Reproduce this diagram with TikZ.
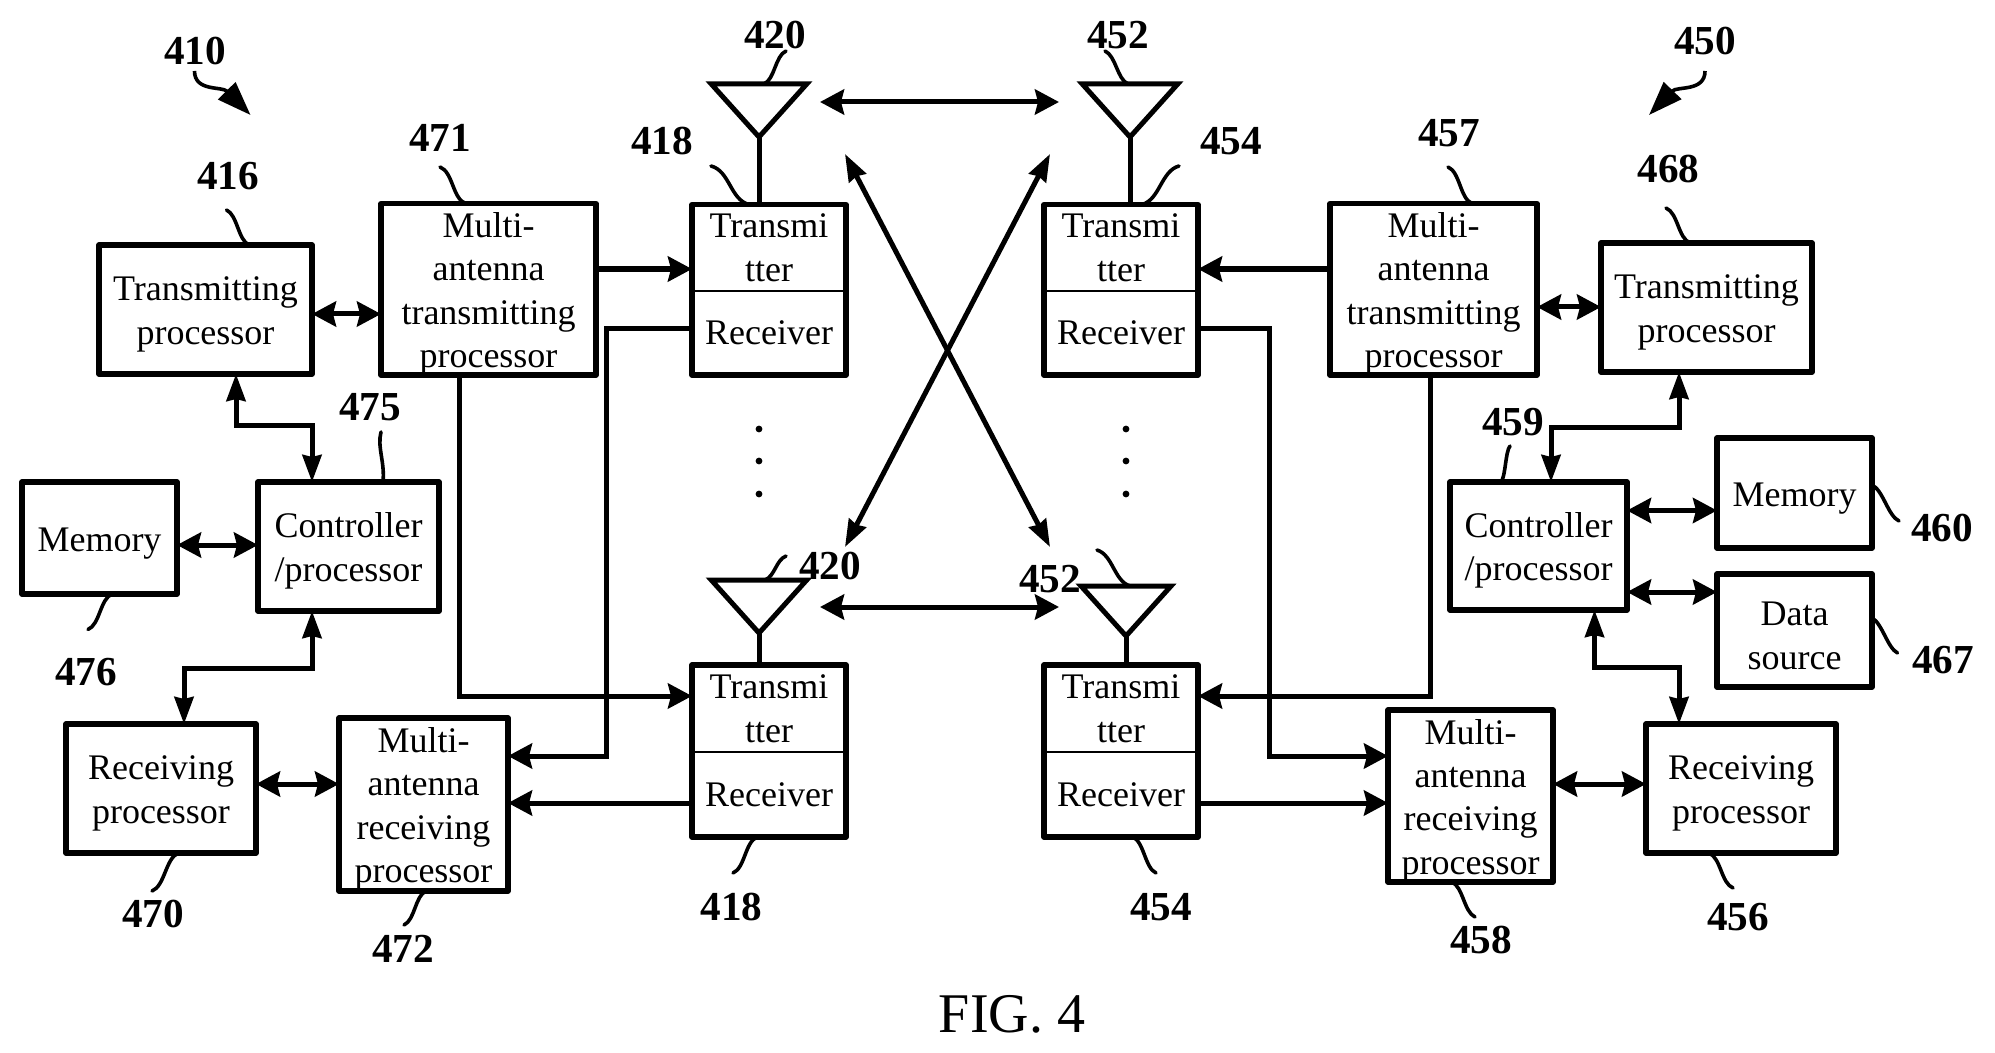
\documentclass[tikz,border=0pt]{standalone}
\usepackage{fontspec}
\setmainfont{Liberation Serif}
\usetikzlibrary{arrows.meta,positioning,shapes.geometric}

\tikzset{
  box/.style={draw,rectangle,line width=2.6pt,line join=round,text width=95pt,inner xsep=-10pt,inner ysep=-3pt,
              outer sep=0pt,align=center,font=\fontsize{18}{21.7}\selectfont,
              execute at begin node={\rule{0pt}{17pt}}},
  part/.style={rectangle,minimum width=77pt,inner sep=0pt,outer sep=0pt,align=center,
               font=\fontsize{18}{22}\selectfont},
  frame/.style={line width=2.6pt,line join=round},
  ant/.style={draw,isosceles triangle,isosceles triangle apex angle=84,shape border rotate=270,
              line width=2.5pt,inner sep=0pt,outer sep=0pt,minimum height=26.5pt,anchor=apex},
  num/.style={inner sep=0pt,font=\fontsize{20.6}{24}\selectfont\bfseries},
  lead/.style={line width=1.8pt,line cap=round},
  line/.style={line width=2.5pt},
  tall/.style={line width=2.5pt,>={Stealth[length=13.5pt,width=9.5pt,inset=1pt]}},
  thick line/.style={line width=3pt},
  dotm/.style={circle,fill=black,inner sep=0pt,minimum size=3.4pt},
  sign/.style={line width=1.8pt,-{Triangle[length=17pt,width=12pt]}},
  >={Stealth[length=12pt,width=12.5pt,inset=1.5pt]}
}

\begin{document}
\begin{tikzpicture}[x=0.5pt,y=-0.5pt]
      \useasboundingbox (0,0) rectangle (1995,1053);

      % left side
      \node[box,minimum width=106.5pt,minimum height=64.5pt](tpl) at (205.5,309.5) {Transmitting\\processor};
      \node[box,minimum width=107.5pt,minimum height=85.75pt](mtl) [right=34.5pt of tpl,yshift=10.1pt] {Multi-\\antenna\\transmitting\\processor};
      \node[part,minimum height=43.25pt](txa) [right=48pt of mtl,yshift=20.75pt] {Transmi\\tter};
      \node[part,minimum height=42pt](rxa) [below=0pt of txa] {Receiver};
      \node[part,minimum height=43.5pt](txb) [below=145pt of rxa] {Transmi\\tter};
      \node[part,minimum height=42.5pt](rxb) [below=0pt of txb] {Receiver};
      \node[box,minimum width=90.5pt,minimum height=64.5pt](ctl) [below=54pt of tpl,xshift=71.5pt] {Controller\\/processor};
      \node[box,minimum width=77.5pt,minimum height=56pt](mel) [left=40.5pt of ctl,yshift=4.25pt] {Memory};
      \node[box,minimum width=95pt,minimum height=64.5pt](rpl) [below=56.5pt of ctl,xshift=-93.75pt] {Receiving\\processor};
      \node[box,minimum width=84.5pt,minimum height=86.5pt](mrl) [right=41.5pt of rpl,yshift=-8pt] {Multi-\\antenna\\receiving\\processor};

      % right side
      \node[part,minimum height=43.25pt](txc) [right=99pt of txa] {Transmi\\tter};
      \node[part,minimum height=42pt](rxc) [below=0pt of txc] {Receiver};
      \node[part,minimum height=43.5pt](txd) [below=145pt of rxc] {Transmi\\tter};
      \node[part,minimum height=42.5pt](rxd) [below=0pt of txd] {Receiver};
      \node[box,minimum width=103.5pt,minimum height=85.75pt](mtr) [right=66pt of txc,yshift=-20.75pt] {Multi-\\antenna\\transmitting\\processor};
      \node[box,minimum width=105.5pt,minimum height=64.5pt](tpr) [right=32pt of mtr,yshift=-9.1pt] {Transmitting\\processor};
      \node[box,minimum width=88.5pt,minimum height=64pt](ctr) [below=55pt of tpr,xshift=-84pt] {Controller\\/processor};
      \node[box,minimum width=77.5pt,minimum height=55pt](mer) [right=45pt of ctr,yshift=26.5pt] {Memory};
      \node[box,minimum width=77.5pt,minimum height=56.5pt,execute at begin node={}](dsr) [below=13pt of mer] {Data\\source};
      \node[box,minimum width=95pt,minimum height=64.5pt](rpr) [below=57pt of ctr,xshift=101.25pt] {Receiving\\processor};
      \node[box,minimum width=82.5pt,minimum height=86pt](mrr) [left=46.5pt of rpr,yshift=-3.75pt] {Multi-\\antenna\\receiving\\processor};

      \draw[frame] (txa.north west) rectangle (rxa.south east);
      \draw[frame] (txb.north west) rectangle (rxb.south east);
      \draw[frame] (txc.north west) rectangle (rxc.south east);
      \draw[frame] (txd.north west) rectangle (rxd.south east);
      \draw[line width=0.9pt] (txa.south west) -- (txa.south east);
      \draw[line width=0.9pt] (txb.south west) -- (txb.south east);
      \draw[line width=0.9pt] (txc.south west) -- (txc.south east);
      \draw[line width=0.9pt] (txd.south west) -- (txd.south east);

      % antennas
      \node[ant](ana) at (759,137) {};
      \node[ant](anb) at (759,633) {};
      \node[ant](anc) at (1130,137) {};
      \node[ant,minimum height=25pt](and) at (1126,636) {};
      \draw[line] (ana.apex) -- (ana.apex |- txa.north);
      \draw[line] (anb.apex) -- (anb.apex |- txb.north);
      \draw[line] (anc.apex) -- (anc.apex |- txc.north);
      \draw[line] (and.apex) -- (and.apex |- txd.north);

      \node[dotm](da1) at (759,429) {};
      \node[dotm](da2) at (759,461) {};
      \node[dotm](da3) at (759,494) {};
      \node[dotm](db1) at (1126,429) {};
      \node[dotm](db2) at (1126,461) {};
      \node[dotm](db3) at (1126,494) {};

      % air links
      \coordinate (wa) at (820,102);
      \coordinate (wb) at (1059,102);
      \coordinate (wc) at (820,607);
      \coordinate (wd) at (1059,607);
      \coordinate (xa) at (845,154);
      \coordinate (xb) at (1050,154);
      \coordinate (xc) at (845,547);
      \coordinate (xd) at (1050,547);
      \path[line] (wa) edge[<->] (wb)
                  (wc) edge[<->] (wd);
      \path[tall] (xa) edge[<->] (xd)
                  (xb) edge[<->] (xc);

      % connectors
      \draw[line,<->] (tpl.east |- 0,314) -- (mtl.west |- 0,314);
      \draw[thick line,->] (mtl.east |- 0,269) -- (txa.west |- 0,269);
      \draw[line,->] (rxa.west |- 0,329) -- (606,329) -- (606,756) -- (mrl.east |- 0,756);
      \draw[line,->] (mtl.south -| 459,0) -- (459,696) -- (txb.west |- 0,696);
      \draw[tall,<->] (tpl.south -| 236,0) -- (236,425) -- (312,425) -- (ctl.north -| 312,0);
      \draw[line,<->] (mel.east |- 0,545) -- (ctl.west |- 0,545);
      \draw[tall,<->] (ctl.south -| 312,0) -- (312,668) -- (184,668) -- (rpl.north -| 184,0);
      \draw[line,<->] (rpl.east |- 0,784) -- (mrl.west |- 0,784);
      \draw[line,->] (rxb.west |- 0,803) -- (mrl.east |- 0,803);
      \draw[thick line,->] (mtr.west |- 0,269) -- (txc.east |- 0,269);
      \draw[line,<->] (mtr.east |- 0,307) -- (tpr.west |- 0,307);
      \draw[line,->] (rxc.east |- 0,329) -- (1269,329) -- (1269,756) -- (mrr.west |- 0,756);
      \draw[line,->] (mtr.south -| 1430,0) -- (1430,696) -- (txd.east |- 0,696);
      \draw[tall,<->] (ctr.north -| 1551,0) -- (1551,427) -- (1679,427) -- (tpr.south -| 1679,0);
      \draw[line,<->] (ctr.east |- 0,510.5) -- (mer.west |- 0,510.5);
      \draw[line,<->] (ctr.east |- 0,592) -- (dsr.west |- 0,592);
      \draw[tall,<->] (ctr.south -| 1594.5,0) -- (1594.5,667) -- (1679,667) -- (rpr.north -| 1679,0);
      \draw[line,<->] (mrr.east |- 0,784) -- (rpr.west |- 0,784);
      \draw[line,->] (rxd.east |- 0,803) -- (mrr.west |- 0,803);

      % reference numbers
      \node[num](l410) at (195,51) {410};
      \node[num](l420a) at (775,35) {420};
      \node[num](l471) at (440,138) {471};
      \node[num](l416) at (228,176) {416};
      \node[num](l418a) at (662,141) {418};
      \node[num](l475) at (370,407) {475};
      \node[num](l476) at (86,672) {476};
      \node[num](l470) at (153,914) {470};
      \node[num](l472) at (403,949) {472};
      \node[num](l418b) at (731.5,907) {418};
      \node[num](l420b) at (830,566) {420};
      \node[num](l452a) at (1118,35) {452};
      \node[num](l454a) at (1231,141) {454};
      \node[num](l457) at (1449,133) {457};
      \node[num](l450) at (1705,41) {450};
      \node[num](l468) at (1668.5,169) {468};
      \node[num](l459) at (1513,422) {459};
      \node[num](l460) at (1942,528) {460};
      \node[num](l467) at (1943,660) {467};
      \node[num](l452b) at (1050,579) {452};
      \node[num](l454b) at (1161,907) {454};
      \node[num](l458) at (1481,940) {458};
      \node[num](l456) at (1738,917) {456};
      \node[font=\fontsize{28}{32}\selectfont](fig) at (1012,1014) {FIG. 4};

      \draw[sign] ([shift={(-0.5,20)}]l410.center) .. controls +(0,21) and +(-28.5,-29) .. (250.5,115);
      \draw[sign] ([shift={(0,30)}]l450.center) .. controls +(0,21) and +(28,-29) .. (1649,115);

      % leaders
      \draw[lead] ([shift={(-1.5,34)}]l416.center) .. controls +(11,5) and +(-11,-5) .. (tpl.north -| 249,0);
      \draw[lead] ([shift={(0,29)}]l471.center) .. controls +(13,5) and +(-13,-5) .. (mtl.north -| 465.5,0);
      \draw[lead] ([shift={(49,25)}]l418a.center) .. controls +(19,5) and +(-19,-5) .. (txa.north -| 749,0);
      \draw[lead] ([shift={(11,16)}]l420a.center) .. controls +(-11,5) and +(11,-5) .. (ana.north -| 764,0);
      \draw[lead] ([shift={(11,25)}]l475.center) .. controls +(-4,15) and +(2,-20) .. (ctl.north -| 383,0);
      \draw[lead] (mel.south -| 112,0) .. controls +(-12,5) and +(12,-5) .. ([shift={(2,-42.5)}]l476.center);
      \draw[lead] (rpl.south -| 178.5,0) .. controls +(-13,5) and +(13,-5) .. ([shift={(-1,-23)}]l470.center);
      \draw[lead] (mrl.south -| 426,0) .. controls +(-11,5) and +(11,-5) .. ([shift={(1,-24)}]l472.center);
      \draw[lead] (rxb.south -| 757,0) .. controls +(-12,5) and +(12,-5) .. ([shift={(1.5,-34)}]l418b.center);
      \draw[lead] ([shift={(-44,-10)}]l420b.center) .. controls +(-10,4) and +(10,-4) .. (anb.north -| 765,0);
      \draw[lead] ([shift={(-13,16)}]l452a.center) .. controls +(11,5) and +(-11,-5) .. (anc.north -| 1128,0);
      \draw[lead] ([shift={(-52,25)}]l454a.center) .. controls +(-18,5) and +(18,-5) .. (txc.north -| 1142,0);
      \draw[lead] ([shift={(-1,34)}]l457.center) .. controls +(12,5) and +(-12,-5) .. (mtr.north -| 1472,0);
      \draw[lead] ([shift={(-2.5,39)}]l468.center) .. controls +(12,5) and +(-12,-5) .. (tpr.north -| 1690,0);
      \draw[lead] ([shift={(-3,24)}]l459.center) .. controls +(-4.5,5) and +(4.5,-5) .. (ctr.north -| 1501,0);
      \draw[lead] (mer.east |- 0,485) .. controls +(11,5) and +(-11,-5) .. ([shift={(-43,-7)}]l460.center);
      \draw[lead] (dsr.east |- 0,618) .. controls +(10,5) and +(-10,-5) .. ([shift={(-45.5,-7)}]l467.center);
      \draw[lead] ([shift={(47,-29)}]l452b.center) .. controls +(16,5) and +(-16,-5) .. (and.north -| 1130,0);
      \draw[lead] (rxd.south -| 1133,0) .. controls +(11,5) and +(-11,-5) .. ([shift={(-5,-34)}]l454b.center);
      \draw[lead] (mrr.south -| 1452,0) .. controls +(11,5) and +(-11,-5) .. ([shift={(-6,-23)}]l458.center);
      \draw[lead] (rpr.south -| 1709,0) .. controls +(12,5) and +(-12,-5) .. ([shift={(-5,-29)}]l456.center);
\end{tikzpicture}
\end{document}
